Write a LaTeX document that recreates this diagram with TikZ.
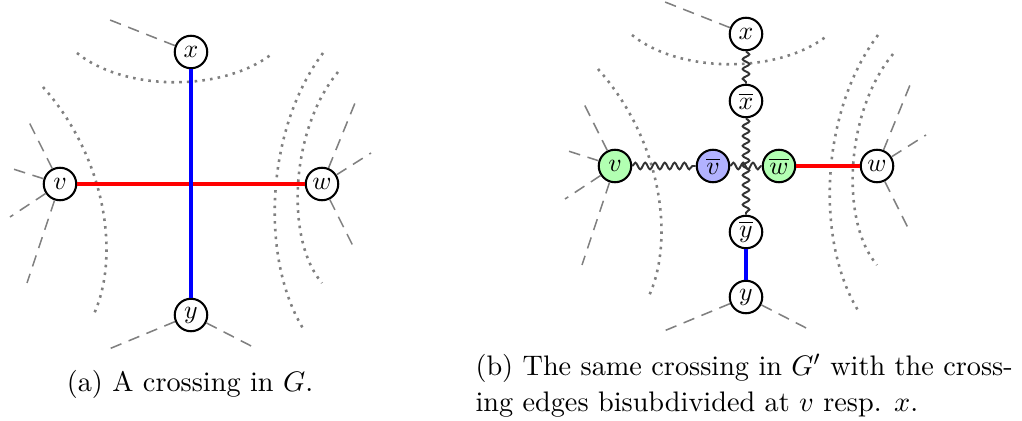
\documentclass[tikz,border=0pt]{standalone}
\usetikzlibrary{decorations.pathmorphing}

\tikzset{
  vertex/.style={circle, draw, line width=0.8pt, fill=white, inner sep=1pt,
    minimum size=12.6pt, font=\fontsize{10}{12}\selectfont},
  stub/.style={draw=gray, dash pattern=on 4.5pt off 3pt, line width=0.6pt},
  region/.style={draw=gray, dotted, line width=1pt},
  redge/.style={draw=red, line width=1.5pt},
  bedge/.style={draw=blue, line width=1.5pt},
  wiggle/.style={draw=black!80, line width=0.75pt, decorate,
    decoration={snake, amplitude=1.3pt, segment length=3.8pt}},
  caption/.style={font=\fontsize{10.95}{13.6}\selectfont, inner sep=0pt}
}

% half-edges and face borders around the crossing, uses nodes v,w,x,y
\newcommand{\crossctx}{%
  %Dashed half-edges
  \draw[stub] (x) -- ++(-81,-32);
  \draw[stub] (v) -- ++(-33,-66);
  \draw[stub] (v) -- ++(-50,-16);
  \draw[stub] (v) -- ++(-50,33);
  \draw[stub] (v) -- ++(-33,99);
  \draw[stub] (w) -- ++(33,-81);
  \draw[stub] (w) -- ++(49,-31);
  \draw[stub] (w) -- ++(33,66);
  \draw[stub] (y) -- ++(-82,34);
  \draw[stub] (y) -- ++(66,34);
  %Dotted face borders
  \draw[region] (77,53) .. controls (125,92) and (225,92) .. (273,53);
  \draw[region] (43,87) .. controls (108,160) and (120,260) .. (93,316);
  \draw[region] (323,53) .. controls (265,130) and (260,260) .. (304,330);
  \draw[region] (338,72) .. controls (290,130) and (285,240) .. (322,283);
}

\begin{document}
\begin{tikzpicture}[x=0.3876pt,y=0.3876pt,yscale=-1]
\useasboundingbox (0,0) rectangle (1022,421);

% (a) the crossing
\node[vertex] (v) at (60,184) {$v$};
\node[vertex] (w) at (322,184) {$w$};
\node[vertex] (x) at (191,52) {$x$};
\node[vertex] (y) at (191,315) {$y$};
\crossctx
\draw[redge] (v) -- (w);
\draw[bedge] (x) -- (y);

% (b) bisubdivided copy
\begin{scope}[shift={(555,-18)}, name prefix=b-]
\node[vertex, fill=green!30] (v) at (60,184) {$v$};
\node[vertex] (w) at (322,184) {$w$};
\node[vertex] (x) at (191,52) {$x$};
\node[vertex] (y) at (191,315) {$y$};
\node[vertex] (xbar) at (191,119) {$\overline{x}$};
\node[vertex] (ybar) at (191,250) {$\overline{y}$};
\node[vertex, fill=blue!30] (vbar) at (158,184) {$\overline{v}$};
\node[vertex, fill=green!30] (wbar) at (224,184) {$\overline{w}$};
\crossctx
\draw[wiggle] (x) -- (xbar);
\draw[wiggle] (v) -- (vbar);
\draw[wiggle] (vbar) -- (wbar);
\draw[wiggle] (xbar) -- (ybar);
\draw[redge] (wbar) -- (w);
\draw[bedge] (ybar) -- (y);
\end{scope}

% Text Node
\node[caption, anchor=base] (capa) at (190,391) {(a) A crossing in $G$.};
% Text Node
\node[caption, anchor=base west, align=left] (capb) at (475,411)
  {(b) The same crossing in $G'$ with the cross-\\ing edges bisubdivided at $v$ resp. $x$.};

\end{tikzpicture}
\end{document}
